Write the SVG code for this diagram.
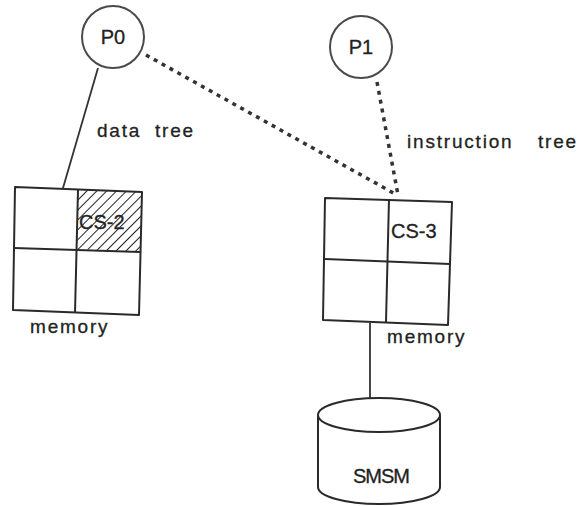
<svg xmlns="http://www.w3.org/2000/svg" width="582" height="506" viewBox="0 0 582 506">
  <style>
    .ink { fill: none; stroke: #2a2a2a; stroke-width: 2; stroke-linejoin: round; }
    .ring { fill: #fff; stroke: #4a4a4a; stroke-width: 2; }
    .label { font-family: "Liberation Sans", Arial, sans-serif; font-size: 19px; fill: #222; stroke: #222; stroke-width: 0.3; letter-spacing: 1.8px; }
    .tag { font-family: "Liberation Sans", Arial, sans-serif; font-size: 20px; fill: #222; stroke: #222; stroke-width: 0.3; }
    .tree { fill: none; stroke: #333; stroke-width: 3.5; stroke-dasharray: 4 5; }
    .wire { fill: none; stroke: #333; stroke-width: 1.8; }
  </style>
  <defs>
    <pattern id="hatch" patternUnits="userSpaceOnUse" width="7" height="7" patternTransform="rotate(45)">
      <line x1="0" y1="0" x2="0" y2="7" stroke="#222" stroke-width="2"/>
    </pattern>
  </defs>
  <rect width="582" height="506" fill="#fff"/>

  <!-- connectors -->
  <g id="connectors">
    <line class="wire" x1="98" y1="68" x2="63" y2="188"/>
    <line class="tree" x1="146" y1="55" x2="397" y2="195"/>
    <line class="tree" x1="377" y1="82" x2="398" y2="195"/>
    <line class="wire" x1="370" y1="323" x2="370" y2="399"/>
  </g>

  <!-- processors -->
  <g id="P0">
    <circle class="ring" cx="113" cy="37" r="31"/>
    <text class="tag" x="113" y="44" text-anchor="middle">P0</text>
  </g>
  <g id="P1">
    <circle class="ring" cx="361" cy="47" r="31"/>
    <text class="tag" x="361" y="54" text-anchor="middle">P1</text>
  </g>

  <!-- memory with CS-2 (hatched) -->
  <g id="memory0">
    <polygon points="78,190 142,192 140,252 77,249" fill="url(#hatch)"/>
    <text class="tag" x="79" y="229">CS-2</text>
    <polygon class="ink" points="15,187 142,192 139,315 13,310"/>
    <line class="ink" x1="78" y1="190" x2="75" y2="313"/>
    <line class="ink" x1="14" y1="248" x2="140" y2="252"/>
    <text class="label" x="30" y="333">memory</text>
  </g>

  <!-- memory with CS-3 -->
  <g id="memory1">
    <polygon class="ink" points="325,198 452,202 448,325 323,320"/>
    <line class="ink" x1="389" y1="199" x2="386" y2="322"/>
    <line class="ink" x1="325" y1="259" x2="450" y2="264"/>
    <text class="tag" x="391" y="238">CS-3</text>
    <text class="label" x="387" y="343">memory</text>
  </g>

  <!-- shared store -->
  <g id="SMSM">
    <path class="ink" d="M318,415 L318,487 A61,17 0 0 0 440,487 L440,415" fill="#fff"/>
    <ellipse class="ink" cx="379" cy="415" rx="61" ry="17"/>
    <text class="tag" x="381" y="483" text-anchor="middle" letter-spacing="-1">SMSM</text>
  </g>

  <!-- tree labels -->
  <text class="label" x="97" y="137">data<tspan x="155">tree</tspan></text>
  <text class="label" x="407" y="148">instruction<tspan x="538">tree</tspan></text>
</svg>
